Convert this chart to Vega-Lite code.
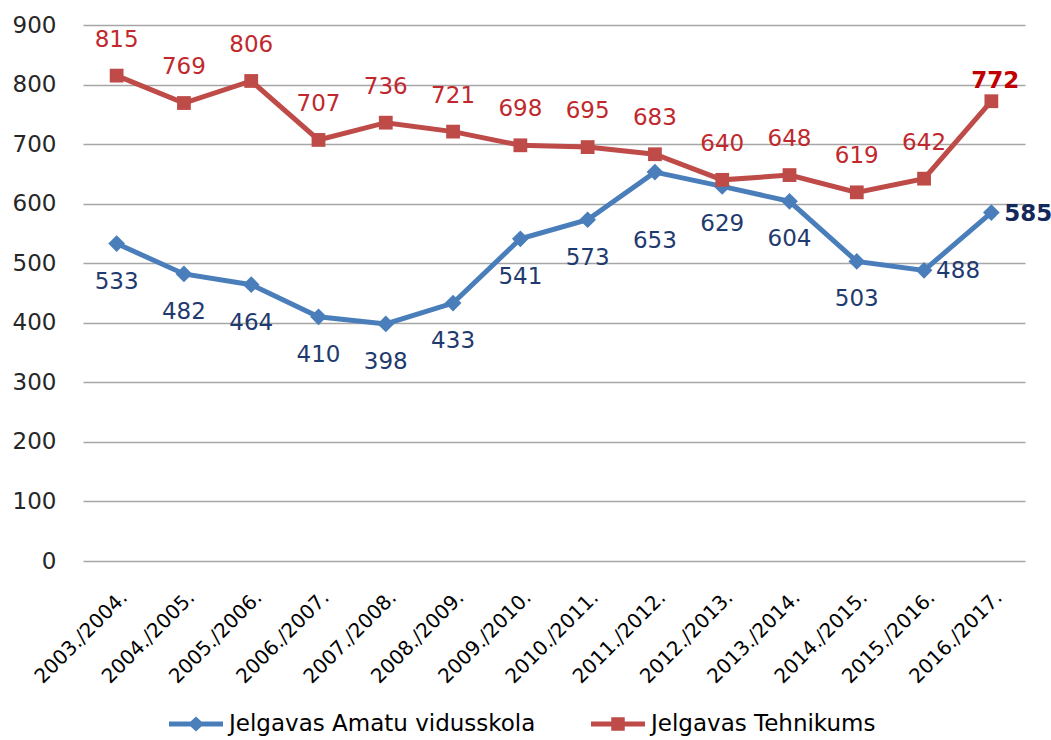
{
  "$schema": "https://vega.github.io/schema/vega-lite/v6.json",
  "autosize": {"type": "none"},
  "width": 942,
  "height": 536,
  "padding": {"left": 83, "top": 25, "right": 26, "bottom": 179},
  "background": "white",
  "config": {
    "view": {"stroke": null},
    "font": "DejaVu Sans"
  },
  "data": {
    "values": [
      {"year": "2003./2004.", "series": "Jelgavas Amatu vidusskola", "value": 533},
      {"year": "2004./2005.", "series": "Jelgavas Amatu vidusskola", "value": 482},
      {"year": "2005./2006.", "series": "Jelgavas Amatu vidusskola", "value": 464},
      {"year": "2006./2007.", "series": "Jelgavas Amatu vidusskola", "value": 410},
      {"year": "2007./2008.", "series": "Jelgavas Amatu vidusskola", "value": 398},
      {"year": "2008./2009.", "series": "Jelgavas Amatu vidusskola", "value": 433},
      {"year": "2009./2010.", "series": "Jelgavas Amatu vidusskola", "value": 541},
      {"year": "2010./2011.", "series": "Jelgavas Amatu vidusskola", "value": 573},
      {"year": "2011./2012.", "series": "Jelgavas Amatu vidusskola", "value": 653},
      {"year": "2012./2013.", "series": "Jelgavas Amatu vidusskola", "value": 629},
      {"year": "2013./2014.", "series": "Jelgavas Amatu vidusskola", "value": 604},
      {"year": "2014./2015.", "series": "Jelgavas Amatu vidusskola", "value": 503},
      {"year": "2015./2016.", "series": "Jelgavas Amatu vidusskola", "value": 488},
      {"year": "2016./2017.", "series": "Jelgavas Amatu vidusskola", "value": 585},
      {"year": "2003./2004.", "series": "Jelgavas Tehnikums", "value": 815},
      {"year": "2004./2005.", "series": "Jelgavas Tehnikums", "value": 769},
      {"year": "2005./2006.", "series": "Jelgavas Tehnikums", "value": 806},
      {"year": "2006./2007.", "series": "Jelgavas Tehnikums", "value": 707},
      {"year": "2007./2008.", "series": "Jelgavas Tehnikums", "value": 736},
      {"year": "2008./2009.", "series": "Jelgavas Tehnikums", "value": 721},
      {"year": "2009./2010.", "series": "Jelgavas Tehnikums", "value": 698},
      {"year": "2010./2011.", "series": "Jelgavas Tehnikums", "value": 695},
      {"year": "2011./2012.", "series": "Jelgavas Tehnikums", "value": 683},
      {"year": "2012./2013.", "series": "Jelgavas Tehnikums", "value": 640},
      {"year": "2013./2014.", "series": "Jelgavas Tehnikums", "value": 648},
      {"year": "2014./2015.", "series": "Jelgavas Tehnikums", "value": 619},
      {"year": "2015./2016.", "series": "Jelgavas Tehnikums", "value": 642},
      {"year": "2016./2017.", "series": "Jelgavas Tehnikums", "value": 772}
    ]
  },
  "encoding": {
    "x": {
      "field": "year",
      "type": "ordinal",
      "sort": null,
      "scale": {"type": "point", "padding": 0.5},
      "axis": {
        "title": null,
        "labelAngle": -45,
        "labelFont": "DejaVu Sans",
        "labelFontSize": 20,
        "labelColor": "#000000",
        "labelPadding": 26,
        "ticks": false,
        "domain": false,
        "grid": false
      }
    },
    "y": {
      "field": "value",
      "type": "quantitative",
      "scale": {"domain": [0, 900], "nice": false},
      "axis": {
        "title": null,
        "values": [0, 100, 200, 300, 400, 500, 600, 700, 800, 900],
        "labelFont": "DejaVu Sans",
        "labelFontSize": 23,
        "labelColor": "#262626",
        "labelPadding": 27,
        "ticks": false,
        "domain": false,
        "gridColor": "#A6A6A6",
        "gridWidth": 1.5
      }
    }
  },
  "layer": [
    {
      "mark": {"type": "line", "strokeWidth": 5},
      "encoding": {
        "color": {
          "field": "series",
          "type": "nominal",
          "scale": {"domain": ["Jelgavas Amatu vidusskola", "Jelgavas Tehnikums"], "range": ["#4A7EBB", "#BE4B48"]},
          "legend": {
            "title": null,
            "orient": "none",
            "legendX": 86,
            "legendY": 672,
            "direction": "horizontal",
            "labelFont": "DejaVu Sans",
            "labelFontSize": 23,
            "labelColor": "#000000",
            "labelLimit": 0,
            "symbolSize": 2916,
            "symbolStrokeWidth": 0,
            "symbolOpacity": 1,
            "labelOffset": 6,
            "columnPadding": 55,
            "encode": {
              "symbols": {
                "update": {
                  "shape": {"signal": "datum.value === 'Jelgavas Tehnikums' ? 'M-1,-0.095H-0.25V-0.25H0.25V-0.095H1V0.095H0.25V0.25H-0.25V0.095H-1Z' : 'M-1,-0.095H-0.2L0,-0.28L0.2,-0.095H1V0.095H0.2L0,0.28L-0.2,0.095H-1Z'"},
                  "fill": {"signal": "datum.value === 'Jelgavas Tehnikums' ? '#BE4B48' : '#4A7EBB'"},
                  "stroke": {"value": "transparent"},
                  "strokeWidth": {"value": 0}
                }
              }
            }
          }
        }
      }
    },
    {
      "mark": {"type": "point", "filled": true, "opacity": 1},
      "encoding": {
        "color": {
          "field": "series",
          "type": "nominal",
          "scale": {"domain": ["Jelgavas Amatu vidusskola", "Jelgavas Tehnikums"], "range": ["#4A7EBB", "#BE4B48"]}
        },
        "shape": {
          "condition": {"test": "datum.series === 'Jelgavas Tehnikums'", "value": "square"},
          "value": "diamond"
        },
        "size": {
          "condition": {"test": "datum.series === 'Jelgavas Tehnikums'", "value": 190},
          "value": 280
        }
      }
    },
    {
      "transform": [{"filter": "datum.series === 'Jelgavas Tehnikums' && datum.year !== '2016./2017.'"}],
      "mark": {"type": "text", "dy": -36, "fontSize": 23, "font": "DejaVu Sans", "color": "#C0282D"},
      "encoding": {"text": {"field": "value", "type": "quantitative"}}
    },
    {
      "transform": [{"filter": "datum.series === 'Jelgavas Tehnikums' && datum.year === '2016./2017.'"}],
      "mark": {"type": "text", "dy": -20, "dx": 4, "fontSize": 23, "fontWeight": "bold", "font": "DejaVu Sans", "color": "#C00000"},
      "encoding": {"text": {"field": "value", "type": "quantitative"}}
    },
    {
      "transform": [{"filter": "datum.series === 'Jelgavas Amatu vidusskola' && indexof(['2011./2012.', '2015./2016.', '2016./2017.'], datum.year) < 0"}],
      "mark": {"type": "text", "dy": 38, "fontSize": 23, "font": "DejaVu Sans", "color": "#1F3A6E"},
      "encoding": {"text": {"field": "value", "type": "quantitative"}}
    },
    {
      "transform": [{"filter": "datum.series === 'Jelgavas Amatu vidusskola' && datum.year === '2011./2012.'"}],
      "mark": {"type": "text", "dy": 69, "fontSize": 23, "font": "DejaVu Sans", "color": "#1F3A6E"},
      "encoding": {"text": {"field": "value", "type": "quantitative"}}
    },
    {
      "transform": [{"filter": "datum.series === 'Jelgavas Amatu vidusskola' && datum.year === '2015./2016.'"}],
      "mark": {"type": "text", "dx": 34, "dy": 1, "fontSize": 23, "font": "DejaVu Sans", "color": "#1F3A6E"},
      "encoding": {"text": {"field": "value", "type": "quantitative"}}
    },
    {
      "transform": [{"filter": "datum.series === 'Jelgavas Amatu vidusskola' && datum.year === '2016./2017.'"}],
      "mark": {"type": "text", "dx": 13, "dy": 1, "align": "left", "fontSize": 23, "fontWeight": "bold", "font": "DejaVu Sans", "color": "#14285A"},
      "encoding": {"text": {"field": "value", "type": "quantitative"}}
    }
  ]
}
